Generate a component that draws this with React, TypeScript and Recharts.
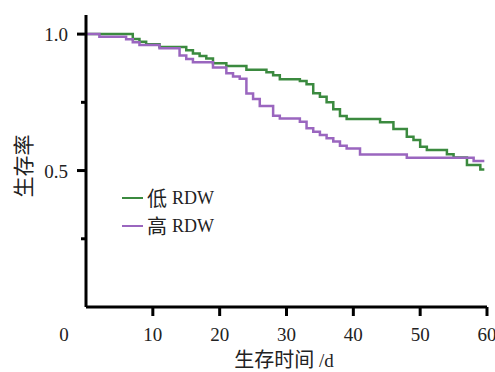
import { LineChart, Line, XAxis, YAxis, Legend } from 'recharts';

const lowT = [0, 7, 8, 9, 11, 15, 16, 17, 18, 19, 21, 24, 27, 28, 29, 32, 33, 34, 35, 36, 37, 38, 39, 44, 46, 48, 49, 50, 51, 54, 55, 57, 59, 59.6];
const lowS = [1, 0.982, 0.972, 0.963, 0.953, 0.941, 0.929, 0.92, 0.911, 0.893, 0.883, 0.869, 0.86, 0.849, 0.835, 0.828, 0.816, 0.783, 0.77, 0.75, 0.725, 0.7, 0.689, 0.677, 0.652, 0.624, 0.612, 0.587, 0.575, 0.56, 0.548, 0.52, 0.504, 0.504];
const highT = [0, 2, 6, 7, 8, 11, 14, 15, 16, 19, 21, 22, 23, 24, 25, 26, 28, 29, 32, 33, 34, 35, 36, 37, 38, 39, 41, 48, 58, 59.6];
const highS = [1, 0.99, 0.981, 0.97, 0.96, 0.948, 0.922, 0.909, 0.897, 0.878, 0.857, 0.845, 0.836, 0.782, 0.762, 0.737, 0.701, 0.691, 0.679, 0.655, 0.642, 0.63, 0.618, 0.606, 0.591, 0.581, 0.559, 0.547, 0.535, 0.535];
const xTicks = [0, 10, 20, 30, 40, 50, 60];
const yTicks = [0.25, 0.5, 0.75, 1];
const yLabeled = [0.5, 1];

const series = [
  { name: '低 RDW', color: '#3b8a3f', data: lowT.map((t, i) => ({ t, s: lowS[i] })) },
  { name: '高 RDW', color: '#9a66bf', data: highT.map((t, i) => ({ t, s: highS[i] })) },
];

const serif = "'Liberation Serif', 'DejaVu Serif', serif";
const cjk = "'Noto Sans CJK SC', sans-serif";

const XTick = ({ x, y, payload }: any) => {
  const base = y - 8;
  const v = payload.value;
  return (
    <g>
      {v !== 0 && <line x1={x} x2={x} y1={base} y2={base + 9} stroke="#000" strokeWidth={3} />}
      <text x={v === 0 ? x - 22 : x} y={base + 34} textAnchor="middle" style={{ fontFamily: serif, fontSize: 19 }} fill="#222">{v}</text>
    </g>
  );
};

const YTick = ({ x, y, payload }: any) => {
  const ax = x + 8;
  const major = yLabeled.includes(payload.value);
  return (
    <g>
      <line x1={ax - (major ? 9 : 5)} x2={ax} y1={y} y2={y} stroke="#000" strokeWidth={3} />
      {major && <text x={ax - 18} y={y + 7} textAnchor="end" style={{ fontFamily: serif, fontSize: 19 }} fill="#222">{payload.value.toFixed(1)}</text>}
    </g>
  );
};

const LegendBox = () => (
  <div>
    {series.map(s => (
      <div key={s.name} style={{ display: 'flex', alignItems: 'center', height: 28 }}>
        <span style={{ display: 'inline-block', width: 21, height: 2, background: s.color, marginRight: 4 }} />
        <span style={{ fontFamily: cjk, fontSize: 20, color: '#222', lineHeight: '28px' }}>{s.name.slice(0, 1)}</span>
        <span style={{ fontFamily: serif, fontSize: 18, color: '#222', marginLeft: 5, lineHeight: '28px' }}>{s.name.slice(2)}</span>
      </div>
    ))}
  </div>
);

export default function App() {
  return (
    <div style={{ position: 'absolute', left: 0, top: 0, width: 495, height: 372, background: '#fff' }}>
      <LineChart width={495} height={372} margin={{ top: 15, right: 8, bottom: 0, left: 0 }}>
        <XAxis dataKey="t" type="number" domain={[0, 60]} ticks={xTicks} height={65} tickSize={8} tickMargin={0}
          tickLine={false} axisLine={{ stroke: '#000', strokeWidth: 3 }} tick={<XTick />} allowDataOverflow />
        <YAxis type="number" domain={[0, 1.07]} ticks={yTicks} width={86} tickSize={8} tickMargin={0}
          tickLine={false} axisLine={{ stroke: '#000', strokeWidth: 3 }} tick={<YTick />} allowDataOverflow />
        <Legend layout="vertical" align="center" verticalAlign="middle" content={<LegendBox />}
          wrapperStyle={{ left: 122, top: 184, width: 140 }} />
        {series.map(s => (
          <Line key={s.name} data={s.data} dataKey="s" name={s.name} type="stepAfter" stroke={s.color}
            strokeWidth={2.5} dot={false} activeDot={false} isAnimationActive={false} />
        ))}
      </LineChart>
      <div style={{ position: 'absolute', left: 284, top: 360, transform: 'translate(-50%, -50%)', whiteSpace: 'nowrap', fontSize: 20, color: '#222', lineHeight: '24px' }}>
        <span style={{ fontFamily: cjk }}>生存时间</span>
        <span style={{ fontFamily: serif, fontSize: 19 }}> /d</span>
      </div>
      <div style={{ position: 'absolute', left: 22, top: 166, transform: 'translate(-50%, -50%) rotate(-90deg)', fontFamily: cjk, fontSize: 21, color: '#222', whiteSpace: 'nowrap', lineHeight: '24px' }}>
        生存率
      </div>
    </div>
  );
}
